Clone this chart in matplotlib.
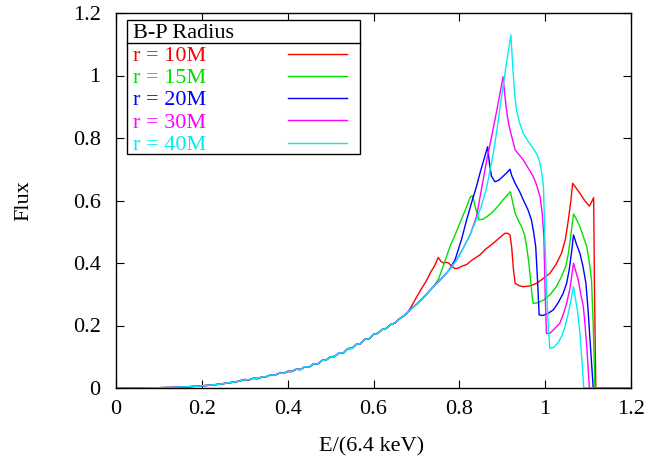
import matplotlib
matplotlib.use("Agg")
import matplotlib.pyplot as plt
from matplotlib.patches import Rectangle
from matplotlib.lines import Line2D

plt.rcParams['font.family'] = ['Liberation Serif', 'DejaVu Serif']

# shared low-energy part of all spectra
common_x = [0.00, 0.05, 0.10, 0.14, 0.18, 0.20, 0.22, 0.24, 0.26, 0.28,
            0.30, 0.31, 0.32, 0.33, 0.34, 0.35, 0.36, 0.37, 0.38, 0.39,
            0.40, 0.41, 0.42, 0.43, 0.44, 0.45, 0.46, 0.47, 0.48, 0.49,
            0.50, 0.51, 0.52, 0.53, 0.54, 0.55, 0.56, 0.57, 0.58, 0.59,
            0.60, 0.61, 0.62, 0.63, 0.64, 0.65, 0.66, 0.67, 0.68]
common_y = [0.000, 0.000, 0.001, 0.002, 0.005, 0.007, 0.009, 0.012, 0.016, 0.020,
            0.027, 0.026, 0.031, 0.030, 0.035, 0.036, 0.042, 0.041, 0.047, 0.047,
            0.053, 0.053, 0.060, 0.059, 0.068, 0.067, 0.077, 0.077, 0.088, 0.090,
            0.100, 0.101, 0.113, 0.112, 0.126, 0.127, 0.140, 0.142, 0.156, 0.158,
            0.172, 0.175, 0.187, 0.191, 0.203, 0.208, 0.221, 0.230, 0.243]

# r = 10M
r10_x = [0.69, 0.700, 0.712, 0.724, 0.733, 0.742, 0.751, 0.757, 0.763, 0.770,
         0.775, 0.782, 0.790, 0.797, 0.806, 0.817, 0.830, 0.848, 0.862, 0.879,
         0.893, 0.906, 0.913, 0.918, 0.922, 0.926, 0.930, 0.940, 0.949, 0.965,
         0.980, 0.995, 1.011, 1.025, 1.038, 1.047, 1.054, 1.060, 1.064, 1.072,
         1.081, 1.092, 1.103, 1.108, 1.113, 1.115, 1.118, 1.20]
r10_y = [0.265, 0.290, 0.318, 0.345, 0.370, 0.390, 0.418, 0.405, 0.400, 0.402,
         0.400, 0.390, 0.382, 0.383, 0.390, 0.395, 0.410, 0.426, 0.445, 0.463,
         0.480, 0.495, 0.495, 0.490, 0.450, 0.380, 0.335, 0.327, 0.324, 0.327,
         0.335, 0.350, 0.367, 0.395, 0.431, 0.475, 0.538, 0.600, 0.655, 0.640,
         0.623, 0.600, 0.582, 0.595, 0.609, 0.300, 0.000, 0.000]

# r = 15M
r15_x = [0.70, 0.72, 0.74, 0.752, 0.765, 0.778, 0.790, 0.801, 0.814, 0.826,
         0.831, 0.838, 0.846, 0.855, 0.866, 0.879, 0.890, 0.902, 0.912, 0.919,
         0.925, 0.930, 0.938, 0.945, 0.952, 0.957, 0.962, 0.966, 0.970, 0.972,
         0.984, 0.998, 1.011, 1.025, 1.038, 1.048, 1.054, 1.060, 1.066, 1.073,
         1.081, 1.090, 1.097, 1.103, 1.108, 1.112, 1.116, 1.20]
r15_y = [0.268, 0.295, 0.325, 0.350, 0.400, 0.452, 0.490, 0.527, 0.570, 0.612,
         0.615, 0.575, 0.538, 0.540, 0.550, 0.565, 0.582, 0.602, 0.618, 0.628,
         0.590, 0.559, 0.535, 0.516, 0.490, 0.452, 0.400, 0.345, 0.290, 0.271,
         0.273, 0.283, 0.298, 0.322, 0.356, 0.390, 0.430, 0.490, 0.557, 0.540,
         0.516, 0.480, 0.452, 0.400, 0.345, 0.200, 0.000, 0.000]

# r = 20M
r20_x = [0.70, 0.72, 0.74, 0.755, 0.775, 0.790, 0.805, 0.817, 0.830, 0.840,
         0.848, 0.857, 0.866, 0.870, 0.875, 0.883, 0.892, 0.900, 0.910, 0.918,
         0.922, 0.930, 0.940, 0.949, 0.960, 0.968, 0.973, 0.978, 0.982, 0.986,
         0.995, 1.008, 1.019, 1.030, 1.042, 1.050, 1.056, 1.062, 1.066, 1.073,
         1.081, 1.088, 1.095, 1.100, 1.104, 1.112, 1.20]
r20_y = [0.268, 0.295, 0.325, 0.345, 0.375, 0.410, 0.475, 0.538, 0.600, 0.645,
         0.687, 0.730, 0.772, 0.720, 0.677, 0.660, 0.665, 0.675, 0.688, 0.700,
         0.680, 0.655, 0.630, 0.602, 0.570, 0.538, 0.500, 0.452, 0.350, 0.234,
         0.232, 0.240, 0.250, 0.272, 0.303, 0.335, 0.378, 0.440, 0.490, 0.460,
         0.431, 0.390, 0.335, 0.250, 0.164, 0.000, 0.000]

# r = 30M
r30_x = [0.70, 0.72, 0.74, 0.755, 0.775, 0.794, 0.810, 0.825, 0.840, 0.852,
         0.864, 0.873, 0.883, 0.893, 0.902, 0.905, 0.909, 0.913, 0.918, 0.923,
         0.930, 0.940, 0.949, 0.960, 0.972, 0.980, 0.988, 0.993, 0.997, 1.000,
         1.003, 1.011, 1.022, 1.034, 1.042, 1.050, 1.058, 1.066, 1.071, 1.077,
         1.083, 1.089, 1.093, 1.097, 1.103, 1.20]
r30_y = [0.268, 0.295, 0.325, 0.345, 0.375, 0.410, 0.450, 0.490, 0.548, 0.640,
         0.730, 0.790, 0.858, 0.930, 0.996, 0.950, 0.900, 0.860, 0.826, 0.800,
         0.762, 0.745, 0.730, 0.705, 0.677, 0.650, 0.612, 0.560, 0.484, 0.300,
         0.175, 0.175, 0.190, 0.207, 0.235, 0.271, 0.320, 0.399, 0.375, 0.346,
         0.300, 0.260, 0.200, 0.132, 0.000, 0.000]

# r = 40M
r40_x = [0.70, 0.72, 0.74, 0.755, 0.775, 0.794, 0.810, 0.825, 0.840, 0.852,
         0.864, 0.872, 0.879, 0.887, 0.895, 0.903, 0.911, 0.920, 0.925, 0.929,
         0.933, 0.940, 0.949, 0.960, 0.972, 0.982, 0.988, 0.993, 0.996, 1.000,
         1.003, 1.008, 1.011, 1.020, 1.030, 1.038, 1.046, 1.054, 1.060, 1.066,
         1.070, 1.075, 1.081, 1.085, 1.090, 1.20]
r40_y = [0.268, 0.295, 0.325, 0.345, 0.375, 0.410, 0.450, 0.490, 0.540, 0.585,
         0.644, 0.700, 0.750, 0.820, 0.900, 0.975, 1.050, 1.130, 1.018, 0.940,
         0.890, 0.850, 0.815, 0.790, 0.767, 0.745, 0.720, 0.680, 0.644, 0.450,
         0.324, 0.180, 0.127, 0.130, 0.145, 0.164, 0.195, 0.239, 0.280, 0.324,
         0.290, 0.250, 0.175, 0.100, 0.000, 0.000]

labels = ['r = 10M', 'r = 15M', 'r = 20M', 'r = 30M', 'r = 40M']
colors = ['#ff0000', '#00e000', '#0000ff', '#ff00ff', '#00eeee']
series_x = [r10_x, r15_x, r20_x, r30_x, r40_x]
series_y = [r10_y, r15_y, r20_y, r30_y, r40_y]

FS = 16
W, H = 649, 458
fig = plt.figure(figsize=(W / 100, H / 100), dpi=100)
L, R, T, B = 116, 631, 13, 388
ax = fig.add_axes([L / W, 1 - B / H, (R - L) / W, (B - T) / H])

for xs, ys, c in zip(series_x, series_y, colors):
    ax.plot(common_x + xs, common_y + ys, color=c, lw=1.0)

ax.set_xlim(0, 1.2)
ax.set_ylim(0, 1.2)
ticks = [0, 0.2, 0.4, 0.6, 0.8, 1.0, 1.2]
ticklabels = ['0', '0.2', '0.4', '0.6', '0.8', '1', '1.2']
ax.set_xticks(ticks)
ax.set_xticklabels(ticklabels)
ax.set_yticks(ticks)
ax.set_yticklabels(ticklabels)
ax.tick_params(direction='in', length=6, width=0.8, top=True, right=True,
               labelsize=FS)
ax.tick_params(axis='x', pad=9)
ax.tick_params(axis='y', pad=11)
for s in ax.spines.values():
    s.set_linewidth(1.0)

def fx(px):
    return px / W

def fy(py):
    return 1 - py / H

fig.text(fx(372), fy(451.5), 'E/(6.4 keV)', ha='center', va='baseline', fontsize=FS)
fig.text(fx(24), fy(201), 'Flux', ha='center', va='center', rotation=90, fontsize=FS)

# legend box (gnuplot style: title, separator, text then sample line)
lx0, lx1, ly0, ly1 = 127, 360, 20, 154
fig.patches.append(Rectangle((fx(lx0), fy(ly1)), fx(lx1) - fx(lx0), fy(ly0) - fy(ly1),
                             transform=fig.transFigure, fill=True, facecolor='white',
                             edgecolor='black', lw=1.0, zorder=5))
fig.lines.append(Line2D([fx(lx0), fx(lx1)], [fy(42.5), fy(42.5)], transform=fig.transFigure,
                        color='black', lw=1.0, zorder=6))
fig.text(fx(133), fy(38.3), 'B-P Radius', ha='left', va='baseline', fontsize=FS, zorder=6)
text_rows = [60.7, 83, 105.3, 127.6, 150]
line_rows = [54, 76, 98, 120.3, 142.7]
for lab, c, ty, ly in zip(labels, colors, text_rows, line_rows):
    fig.text(fx(133), fy(ty), lab, ha='left', va='baseline', fontsize=FS, color=c, zorder=6)
    fig.lines.append(Line2D([fx(288), fx(347)], [fy(ly), fy(ly)], transform=fig.transFigure,
                            color=c, lw=1.0, zorder=6))

fig.savefig('out.png', dpi=100)
